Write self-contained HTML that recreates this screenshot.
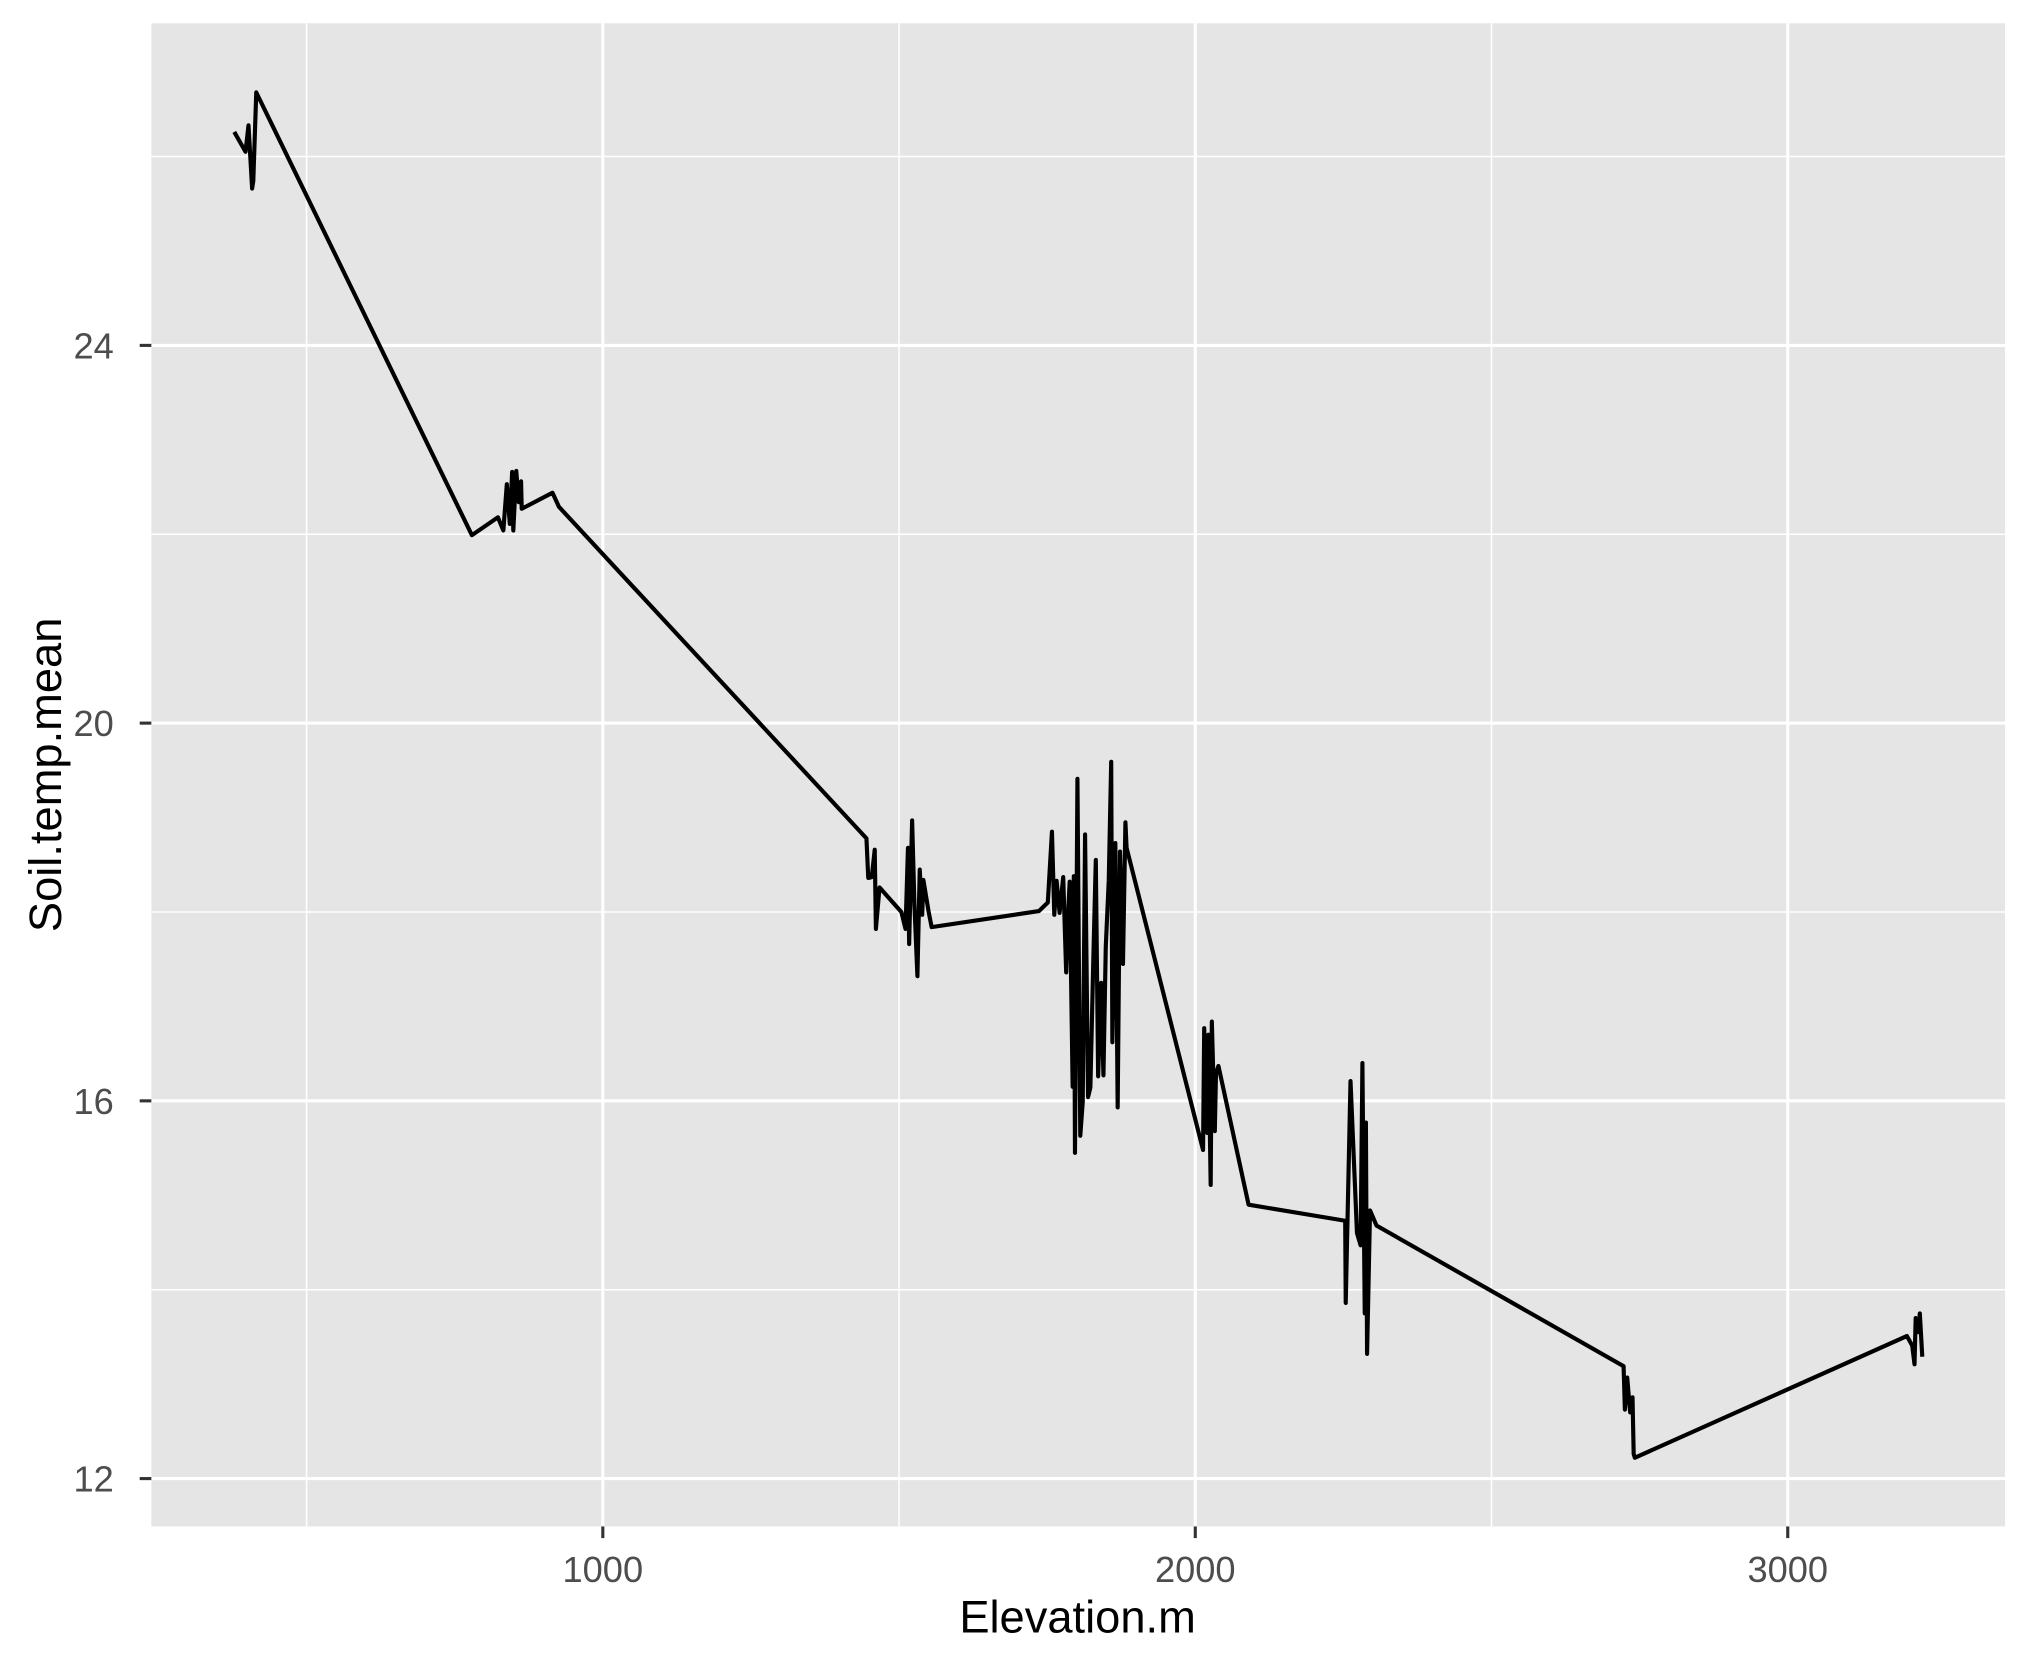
<!DOCTYPE html>
<html><head><meta charset="utf-8"><style>html,body{margin:0;padding:0;background:#fff}svg{display:block}</style></head>
<body>
<svg id="chart" width="2029" height="1654" viewBox="0 0 1568.5 1278.6" xmlns="http://www.w3.org/2000/svg" font-family="'Liberation Sans', sans-serif">
<rect x="117" y="18" width="1433" height="1162" fill="#e5e5e5"/>
<g id="grid"></g>
<g id="axes"></g>
<path id="series" fill="none" stroke="#000" stroke-width="3.2" stroke-linejoin="round"/>
<text x="833" y="1262" font-size="35" text-anchor="middle" fill="#000">Elevation.m</text>
<text transform="translate(47,599) rotate(-90)" font-size="35" text-anchor="middle" fill="#000">Soil.temp.mean</text>
</svg>
<script>
const elevation = [378,397,402,408,410,415,779,823,832,838,843,847,849,854,858,862,863,915,926,1445,1448,1454,1459,1461,1467,1504,1511,1515,1517,1522,1526,1531,1535,1539,1541,1550,1555,1736,1751,1758,1762,1766,1771,1777,1782,1786,1788,1793,1795,1797,1801,1806,1810,1814,1819,1823,1828,1832,1836,1841,1845,1849,1854,1858,1860,1865,1869,1873,1878,1882,1884,2013,2015,2020,2022,2026,2028,2033,2035,2039,2090,2253,2254,2262,2273,2279,2282,2286,2288,2290,2295,2306,2723,2725,2729,2734,2738,2740,2742,3201,3210,3214,3216,3220,3223,3227];
const soilTemp = [26.26,26.05,26.33,25.66,25.74,26.68,21.99,22.18,22.04,22.53,22.11,22.66,22.04,22.67,22.34,22.56,22.27,22.44,22.29,18.78,18.36,18.37,18.66,17.82,18.26,18.00,17.82,18.68,17.66,18.97,18.07,17.32,18.45,17.97,18.34,18.00,17.84,18.01,18.10,18.85,17.97,18.33,17.99,18.37,17.36,18.07,18.32,16.15,18.38,15.45,19.41,15.63,15.99,18.82,16.04,16.14,17.51,18.55,16.26,17.25,16.27,17.63,18.33,19.59,16.62,18.73,15.93,18.64,17.45,18.95,18.68,15.48,16.77,15.66,16.70,15.11,16.84,15.68,16.29,16.37,14.90,14.73,13.86,16.21,14.60,14.47,16.40,13.75,15.77,13.32,14.84,14.68,13.19,12.73,13.07,12.70,12.86,12.26,12.22,13.51,13.41,13.21,13.70,13.55,13.75,13.29];
const xTicks = [1000,2000,3000];
const xMinor = [500,1500,2500];
const yTicks = [12,16,20,24];
const yMinor = [14,18,22,26];

const NS = 'http://www.w3.org/2000/svg';
const X = e => 466 + (e - 1000) * 0.458;
const Y = t => 559 - (t - 20) * 73;
const L = 117, R = 1550, T = 18, B = 1180;
const grid = document.getElementById('grid'), axes = document.getElementById('axes');
function mk(tag, attrs, parent) { const el = document.createElementNS(NS, tag); for (const k in attrs) el.setAttribute(k, attrs[k]); parent.appendChild(el); return el; }

xMinor.forEach(v => { const el = mk('line', {x1:X(v),x2:X(v),y1:T,y2:B,stroke:'#fff','stroke-width':1.2}, grid);
  
   });
yMinor.forEach(v => { const el = mk('line', {x1:L,x2:R,y1:Y(v),y2:Y(v),stroke:'#fff','stroke-width':1.2}, grid);
  
   });
xTicks.forEach(v => {
  const g = mk('line', {x1:X(v),x2:X(v),y1:T,y2:B,stroke:'#fff','stroke-width':2.4}, grid);
  
  
  const tk = mk('line', {x1:X(v),x2:X(v),y1:B,y2:B+9,stroke:'#333','stroke-width':2.4}, axes);
  
  
  const tx = mk('text', {x:X(v),y:B+43,'font-size':28,'text-anchor':'middle',fill:'#4d4d4d'}, axes);
  tx.textContent = v;
  
  
});
yTicks.forEach(v => {
  const g = mk('line', {x1:L,x2:R,y1:Y(v),y2:Y(v),stroke:'#fff','stroke-width':2.4}, grid);
  
  
  const tk = mk('line', {x1:L-9,x2:L,y1:Y(v),y2:Y(v),stroke:'#333','stroke-width':2.4}, axes);
  
  
  const tx = mk('text', {x:L-29,y:Y(v)+10,'font-size':28,'text-anchor':'end',fill:'#4d4d4d'}, axes);
  tx.textContent = v;
  
  
});
document.getElementById('series').setAttribute('d', elevation.map((e, i) => (i ? 'L' : 'M') + X(e).toFixed(1) + ',' + Y(soilTemp[i]).toFixed(1)).join(''));
</script>
</body></html>
